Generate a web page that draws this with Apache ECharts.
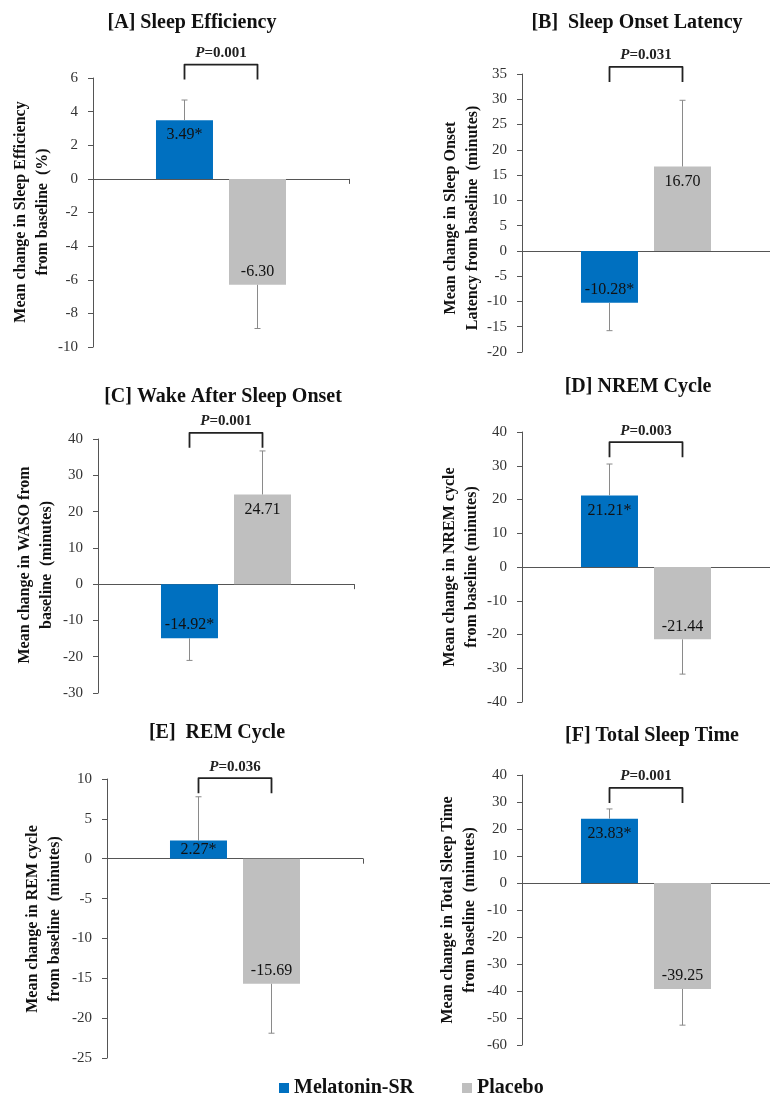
<!DOCTYPE html>
<html>
<head>
<meta charset="utf-8">
<script src="https://cdn.jsdelivr.net/npm/echarts@6/dist/echarts.min.js"></script>
<style>html,body{margin:0;padding:0;background:#fff}#c{width:770px;height:1095px}</style>
</head>
<body>
<div id="c"></div>
<script>
// ---- data ----
const panelTitles = ['[A] Sleep Efficiency', '[B]  Sleep Onset Latency', '[C] Wake After Sleep Onset', '[D] NREM Cycle', '[E]  REM Cycle', '[F] Total Sleep Time'];
const yTitles = [
  'Mean change in Sleep Efficiency\nfrom baseline  (%)',
  'Mean change in Sleep Onset\nLatency from baseline  (minutes)',
  'Mean change in WASO from\nbaseline  (minutes)',
  'Mean change in NREM cycle\nfrom baseline (minutes)',
  'Mean change in REM cycle\nfrom baseline  (minutes)',
  'Mean change in Total Sleep Time\nfrom baseline  (minutes)'
];
const seriesNames = ['Melatonin-SR', 'Placebo'];
const melatonin = [3.49, -10.28, -14.92, 21.21, 2.27, 23.83];
const placebo = [-6.30, 16.70, 24.71, -21.44, -15.69, -39.25];
const melatoninLabels = ['3.49*', '-10.28*', '-14.92*', '21.21*', '2.27*', '23.83*'];
const placeboLabels = ['-6.30', '16.70', '24.71', '-21.44', '-15.69', '-39.25'];
const melatoninErr = [1.2, 5.5, 6.1, 9.3, 5.5, 3.6];
const placeboErr = [2.6, 13.1, 12.0, 10.3, 6.2, 13.4];
const pValues = ['0.001', '0.031', '0.001', '0.003', '0.036', '0.001'];
const bracketLevel = [6.8, 36.4, 41.7, 37.0, 10.1, 35.2];
const yMin = [-10, -20, -30, -40, -25, -60];
const yMax = [6, 35, 40, 40, 10, 40];
const yStep = [2, 5, 10, 10, 5, 10];

// ---- layout / style ----
const FONT = 'Liberation Serif';
const BLUE = '#0070C0', GRAY = '#BFBFBF';
const BAR_W = 57, BAR_GAP = 16;
const HALF = (BAR_W + BAR_GAP) / 2;
const grids = [
  {left: 93, top: 78, width: 256, height: 269},
  {left: 522, top: 74, width: 257, height: 278},
  {left: 98, top: 439, width: 256, height: 254},
  {left: 522, top: 432, width: 257, height: 270},
  {left: 107, top: 779, width: 256, height: 279},
  {left: 522, top: 775, width: 257, height: 270}
];
const titlePos = [[192, 23], [637, 23], [223, 397], [638, 387], [217, 733], [652, 736]];
const yTitlePos = [[31.5, 212], [461.5, 218], [36, 565], [461, 567], [44, 919], [459, 910]];

const option = {
  animation: false,
  backgroundColor: '#fff',
  grid: grids.map(g => Object.assign({containLabel: false}, g)),
  xAxis: grids.map((g, i) => ({
    type: 'category', gridIndex: i, data: [''],
    axisLine: {onZero: true, lineStyle: {color: '#555', width: 1}},
    axisTick: {show: true, length: 5, lineStyle: {color: '#555'}},
    axisLabel: {show: false}
  })),
  yAxis: grids.map((g, i) => ({
    type: 'value', gridIndex: i, min: yMin[i], max: yMax[i], interval: yStep[i],
    axisLine: {show: true, lineStyle: {color: '#555', width: 1}},
    axisTick: {show: true, length: 5, lineStyle: {color: '#555'}},
    splitLine: {show: false},
    axisLabel: {fontFamily: FONT, fontSize: 15, color: '#333', margin: 15}
  })),
  legend: {
    data: [{name: seriesNames[0], itemStyle: {color: BLUE}}, {name: seriesNames[1], itemStyle: {color: GRAY}}],
    left: 274, top: 1073, icon: 'rect', itemWidth: 10, itemHeight: 10, itemGap: 48,
    textStyle: {fontFamily: FONT, fontSize: 20, fontWeight: 'bold', color: '#111'}
  },
  graphic: [],
  series: []
};

function barLabel(v, txt, pxPerUnit) {
  const short = Math.abs(v) * pxPerUnit < 30;
  return {value: v, label: {formatter: txt,
    position: short ? 'inside' : (v >= 0 ? 'insideTop' : 'insideBottom'),
    distance: v >= 0 ? 7 : 5}};
}

function errRender(side) {
  return function (params, api) {
    const v = api.value(1), e = api.value(2);
    const sign = v >= 0 ? 1 : -1;
    const c0 = api.coord([0, v]);
    const c1 = api.coord([0, v + sign * e]);
    const x = c0[0] + side * HALF;
    return {type: 'group', children: [
      {type: 'line', shape: {x1: x, y1: c0[1], x2: x, y2: c1[1]}, style: {stroke: '#8a8a8a', lineWidth: 1}},
      {type: 'line', shape: {x1: x - 3, y1: c1[1], x2: x + 3, y2: c1[1]}, style: {stroke: '#8a8a8a', lineWidth: 1}}
    ]};
  };
}

function bracketRender(p) {
  return function (params, api) {
    const c = api.coord([0, api.value(1)]);
    const xl = c[0] - HALF, xr = c[0] + HALF, y = c[1], leg = 15;
    return {type: 'group', children: [
      {type: 'polyline', shape: {points: [[xl, y + leg], [xl, y], [xr, y], [xr, y + leg]]},
       style: {stroke: '#222', lineWidth: 1.8, fill: null, lineJoin: 'round'}},
      {type: 'text', style: {
        text: '{i|P}{b|=' + p + '}', x: c[0], y: y - 4, align: 'center', verticalAlign: 'bottom',
        rich: {
          i: {fontFamily: FONT, fontSize: 15, fontStyle: 'italic', fontWeight: 'bold', fill: '#222'},
          b: {fontFamily: FONT, fontSize: 15, fontWeight: 'bold', fill: '#222'}
        }
      }}
    ]};
  };
}

for (let i = 0; i < 6; i++) {
  const lab = {show: true, fontFamily: FONT, fontSize: 16, color: '#111'};
  const ppu = grids[i].height / (yMax[i] - yMin[i]);
  option.series.push({
    type: 'bar', name: seriesNames[0], xAxisIndex: i, yAxisIndex: i,
    barWidth: BAR_W, barGap: (BAR_GAP / BAR_W * 100).toFixed(1) + '%',
    itemStyle: {color: BLUE}, label: lab,
    data: [barLabel(melatonin[i], melatoninLabels[i], ppu)]
  });
  option.series.push({
    type: 'bar', name: seriesNames[1], xAxisIndex: i, yAxisIndex: i,
    barWidth: BAR_W, barGap: (BAR_GAP / BAR_W * 100).toFixed(1) + '%',
    itemStyle: {color: GRAY}, label: lab,
    data: [barLabel(placebo[i], placeboLabels[i], ppu)]
  });
  option.series.push({
    type: 'custom', xAxisIndex: i, yAxisIndex: i, clip: false, silent: true, z: 5,
    renderItem: errRender(-1), encode: {x: 0, y: 1},
    data: [[0, melatonin[i], melatoninErr[i]]]
  });
  option.series.push({
    type: 'custom', xAxisIndex: i, yAxisIndex: i, clip: false, silent: true, z: 5,
    renderItem: errRender(1), encode: {x: 0, y: 1},
    data: [[0, placebo[i], placeboErr[i]]]
  });
  option.series.push({
    type: 'custom', xAxisIndex: i, yAxisIndex: i, clip: false, silent: true, z: 6,
    renderItem: bracketRender(pValues[i]), encode: {x: 0, y: 1},
    data: [[0, bracketLevel[i]]]
  });
  option.graphic.push({
    type: 'text', x: titlePos[i][0], y: titlePos[i][1],
    style: {text: panelTitles[i], font: 'bold 20px "' + FONT + '"', fill: '#111', align: 'center', verticalAlign: 'middle'}
  });
  option.graphic.push({
    type: 'text', x: yTitlePos[i][0], y: yTitlePos[i][1], rotation: Math.PI / 2,
    style: {text: yTitles[i], font: 'bold 16px "' + FONT + '"', lineHeight: 22, fill: '#111', align: 'center', verticalAlign: 'middle'}
  });
}

const chart = echarts.init(document.getElementById('c'), null, {renderer: 'canvas'});
chart.setOption(option);
</script>
</body>
</html>
